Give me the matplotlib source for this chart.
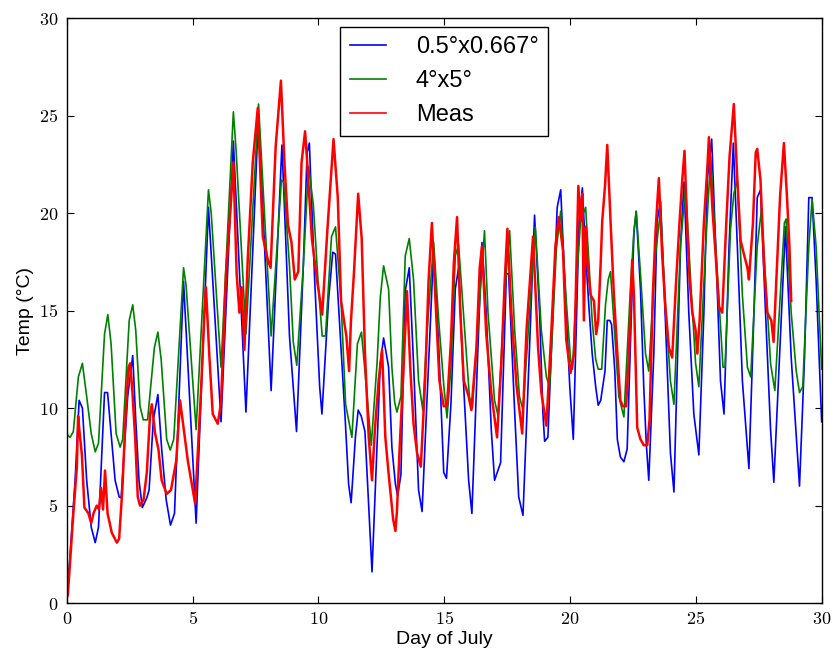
import numpy as np
import matplotlib
matplotlib.use('Agg')
import matplotlib.pyplot as plt
from matplotlib.ticker import FuncFormatter

plt.rcParams['font.family'] = ['Liberation Sans', 'DejaVu Sans']
plt.rcParams['mathtext.fontset'] = 'cm'

# (day of July, temperature degC)
fine = np.array([
    (0.0, 1.9), (0.08, 1.5), (0.33, 6.3), (0.49, 10.4), (0.62, 10.0), (0.79, 6.3), (0.97, 3.9),
    (1.13, 3.1), (1.26, 3.9), (1.5, 10.8), (1.62, 10.8), (1.76, 8.7), (1.92, 6.3), (2.08, 5.45),
    (2.16, 5.4), (2.42, 10.6), (2.62, 12.7), (2.74, 9.4), (2.87, 6.3), (3.0, 4.9), (3.18, 5.4),
    (3.27, 5.8), (3.44, 9.4), (3.62, 10.7), (3.77, 7.9), (3.95, 5.3), (4.12, 4.0), (4.28, 4.6),
    (4.64, 16.5), (5.14, 4.1), (5.63, 20.3), (6.13, 9.3), (6.62, 23.7), (7.12, 9.8), (7.62, 25.1),
    (8.12, 10.9), (8.55, 23.5), (8.65, 20.3), (8.85, 13.7), (9.13, 8.8), (9.4, 17.3), (9.55, 23.1),
    (9.64, 23.6), (9.85, 16.6), (10.05, 11.1), (10.14, 9.7), (10.4, 15.5), (10.57, 18.0),
    (10.68, 17.9), (10.87, 13.7), (11.07, 9.3), (11.2, 6.1), (11.3, 5.15), (11.47, 8.5),
    (11.58, 9.9), (11.7, 9.6), (11.85, 8.8), (12.0, 4.9), (12.13, 1.6), (12.33, 8.0), (12.46, 12.3),
    (12.59, 13.6), (12.79, 12.1), (12.92, 8.0), (13.06, 6.1), (13.15, 5.5), (13.28, 6.6),
    (13.45, 16.0), (13.61, 17.2), (13.78, 12.3), (13.98, 5.8), (14.12, 4.7), (14.32, 10.6),
    (14.58, 18.2), (14.78, 13.2), (14.98, 6.7), (15.09, 6.4), (15.27, 10.3), (15.44, 16.1),
    (15.57, 17.2), (15.77, 11.2), (15.97, 6.3), (16.1, 4.6), (16.34, 13.1), (16.5, 18.5),
    (16.67, 14.9), (16.87, 8.9), (17.0, 6.3), (17.24, 7.2), (17.47, 16.9), (17.56, 16.9),
    (17.8, 9.8), (17.96, 5.45), (18.13, 4.5), (18.39, 13.1), (18.59, 19.9), (18.79, 14.9),
    (18.92, 9.8), (18.99, 8.3), (19.12, 8.5), (19.32, 14.9), (19.49, 20.3), (19.63, 21.2),
    (19.79, 16.6), (19.99, 11.1), (20.13, 8.4), (20.36, 19.6), (20.49, 21.3), (20.62, 17.9),
    (20.75, 15.2), (20.88, 12.8), (21.02, 11.1), (21.12, 10.15), (21.22, 10.4), (21.39, 11.9),
    (21.48, 14.5), (21.58, 14.5), (21.65, 14.3), (21.78, 11.9), (21.88, 8.4), (22.0, 7.5),
    (22.14, 7.25), (22.27, 7.9), (22.54, 19.0), (22.63, 20.1), (22.8, 16.1), (22.93, 11.1),
    (23.03, 8.2), (23.13, 6.3), (23.33, 12.8), (23.46, 19.6), (23.6, 20.6), (23.79, 14.5),
    (23.99, 7.7), (24.13, 5.7), (24.39, 18.3), (24.53, 21.6), (24.72, 14.9), (24.92, 9.7),
    (25.12, 7.6), (25.32, 14.9), (25.46, 21.8), (25.63, 23.8), (25.79, 18.3), (25.98, 11.4),
    (26.12, 9.7), (26.32, 18.3), (26.49, 23.6), (26.65, 18.3), (26.85, 11.4), (27.11, 6.9),
    (27.31, 14.9), (27.44, 20.8), (27.57, 21.2), (27.77, 14.9), (27.97, 8.9), (28.1, 6.2),
    (28.56, 19.3), (28.79, 12.6), (29.12, 6.0), (29.32, 12.6), (29.49, 20.8), (29.62, 20.8),
    (29.78, 16.6), (30.0, 9.3)])

coarse = np.array([
    (0.0, 8.8), (0.04, 8.6), (0.13, 8.5), (0.26, 8.8), (0.46, 11.6), (0.62, 12.3), (0.79, 10.6),
    (0.97, 8.7), (1.13, 7.76), (1.26, 8.2), (1.5, 13.8), (1.63, 14.8), (1.76, 13.3), (1.96, 8.7),
    (2.12, 8.0), (2.22, 8.4), (2.48, 14.5), (2.62, 15.3), (2.74, 14.0), (2.91, 10.1), (3.04, 9.4),
    (3.21, 9.4), (3.48, 13.1), (3.62, 13.9), (3.75, 12.5), (3.97, 8.4), (4.11, 7.85), (4.25, 8.4),
    (4.64, 17.2), (4.74, 16.3), (5.14, 8.9), (5.63, 21.2), (5.74, 20.0), (6.13, 12.1),
    (6.62, 25.2), (6.73, 23.2), (7.12, 13.8), (7.62, 25.6), (8.12, 13.7), (8.53, 21.7),
    (8.62, 21.6), (8.85, 17.3), (9.0, 13.4), (9.14, 12.2), (9.4, 17.3), (9.61, 22.4), (9.8, 20.4),
    (10.0, 16.2), (10.15, 13.7), (10.28, 13.7), (10.52, 18.8), (10.68, 19.3), (10.9, 15.5),
    (11.08, 10.2), (11.33, 8.5), (11.55, 13.3), (11.71, 13.9), (11.85, 11.9), (12.1, 8.1),
    (12.33, 12.3), (12.46, 15.7), (12.59, 17.3), (12.79, 16.1), (12.92, 12.1), (13.03, 10.3),
    (13.12, 9.8), (13.28, 10.6), (13.45, 17.8), (13.61, 18.7), (13.78, 16.6), (13.98, 11.4),
    (14.15, 9.9), (14.32, 14.0), (14.58, 18.5), (14.78, 14.5), (14.98, 11.2), (15.11, 9.5),
    (15.27, 12.1), (15.44, 17.8), (15.57, 18.4), (15.77, 14.8), (16.0, 10.6), (16.12, 10.0),
    (16.6, 19.1), (16.74, 14.9), (17.0, 10.4), (17.14, 9.6), (17.43, 16.4), (17.6, 19.1),
    (17.8, 14.0), (17.99, 10.6), (18.13, 9.9), (18.39, 14.9), (18.62, 19.3), (18.86, 14.0),
    (19.06, 11.6), (19.19, 11.1), (19.46, 18.2), (19.63, 20.1), (19.85, 15.5), (20.02, 12.5),
    (20.1, 12.0), (20.29, 17.1), (20.42, 19.6), (20.62, 20.3), (20.75, 17.5), (20.88, 14.5),
    (21.02, 12.5), (21.12, 12.0), (21.26, 12.0), (21.41, 15.3), (21.52, 16.6), (21.61, 17.0),
    (21.74, 14.5), (21.94, 10.6), (22.14, 9.55), (22.4, 16.1), (22.54, 19.1), (22.63, 20.1),
    (22.8, 16.9), (23.0, 12.8), (23.13, 11.9), (23.4, 17.9), (23.6, 20.2), (23.79, 15.3),
    (23.99, 11.4), (24.13, 10.2), (24.39, 18.3), (24.59, 21.4), (24.79, 16.6), (24.99, 12.3),
    (25.12, 11.1), (25.39, 18.3), (25.59, 22.9), (25.79, 18.3), (26.08, 12.1), (26.16, 12.1),
    (26.38, 19.2), (26.51, 21.0), (26.65, 21.7), (26.85, 15.8), (27.05, 12.1), (27.18, 11.6),
    (27.44, 18.3), (27.61, 20.2), (27.77, 16.6), (27.97, 12.3), (28.14, 10.9), (28.52, 19.5),
    (28.59, 19.7), (28.79, 14.9), (28.99, 11.9), (29.12, 10.8), (29.25, 11.1), (29.49, 18.3),
    (29.62, 20.7), (29.78, 18.3), (30.0, 12.0)])

meas = np.array([
    (0.0, 0.3), (0.04, 0.4), (0.17, 2.9), (0.26, 4.6), (0.4, 7.0), (0.45, 9.6), (0.49, 9.0),
    (0.6, 7.6), (0.7, 4.9), (0.86, 4.6), (0.97, 4.1), (1.06, 4.6), (1.19, 5.0), (1.28, 4.8),
    (1.36, 5.9), (1.44, 4.8), (1.52, 6.8), (1.62, 4.6), (1.79, 3.6), (1.99, 3.1), (2.08, 3.3),
    (2.21, 5.9), (2.34, 9.7), (2.45, 12.1), (2.52, 12.3), (2.61, 10.8), (2.72, 8.4), (2.82, 5.45),
    (2.91, 5.0), (3.05, 5.3), (3.18, 6.7), (3.31, 9.7), (3.38, 10.2), (3.51, 8.7), (3.64, 7.9),
    (3.77, 6.3), (3.97, 5.6), (4.14, 5.8), (4.35, 7.3), (4.5, 10.4), (4.81, 7.3), (5.1, 5.1),
    (5.33, 10.8), (5.47, 14.9), (5.53, 16.2), (5.66, 12.8), (5.8, 9.7), (6.0, 9.2), (6.13, 10.3),
    (6.33, 16.9), (6.53, 20.7), (6.62, 22.6), (6.75, 16.9), (6.86, 14.9), (6.95, 16.2),
    (7.06, 13.0), (7.19, 17.6), (7.39, 22.6), (7.59, 25.4), (7.79, 18.8), (7.99, 17.6),
    (8.1, 17.2), (8.3, 23.4), (8.51, 26.8), (8.65, 22.6), (8.79, 19.4), (8.93, 18.5),
    (9.06, 16.6), (9.2, 17.0), (9.33, 22.6), (9.47, 24.2), (9.54, 22.9), (9.74, 18.7),
    (9.94, 16.6), (10.15, 14.8), (10.36, 19.2), (10.6, 23.8), (10.77, 20.8), (10.9, 15.5),
    (11.11, 13.7), (11.22, 11.9), (11.29, 14.4), (11.41, 16.9), (11.58, 21.0), (11.72, 18.7),
    (11.85, 12.8), (12.0, 8.5), (12.13, 6.3), (12.25, 9.0), (12.4, 11.5), (12.53, 13.0),
    (12.66, 8.5), (12.8, 6.5), (12.97, 4.3), (13.06, 3.7), (13.12, 4.7), (13.23, 8.0),
    (13.36, 11.4), (13.52, 16.0), (13.65, 12.1), (13.78, 9.2), (13.92, 7.7), (14.07, 7.0),
    (14.24, 11.4), (14.38, 16.6), (14.51, 19.5), (14.64, 15.9), (14.81, 11.4), (14.98, 10.1),
    (15.11, 10.1), (15.27, 13.5), (15.38, 17.4), (15.51, 19.8), (15.64, 14.9), (15.78, 11.4),
    (15.97, 10.6), (16.08, 9.9), (16.28, 13.1), (16.41, 17.2), (16.5, 18.3), (16.67, 13.8),
    (16.87, 10.8), (17.1, 8.5), (17.27, 12.3), (17.4, 16.4), (17.51, 19.2), (17.67, 14.9),
    (17.87, 11.2), (18.1, 8.7), (18.27, 14.0), (18.4, 16.4), (18.53, 18.8), (18.73, 13.1),
    (18.86, 10.8), (19.06, 9.1), (19.26, 14.0), (19.42, 18.3), (19.55, 19.8), (19.72, 18.1),
    (19.85, 13.5), (20.02, 11.8), (20.16, 12.8), (20.22, 15.4), (20.33, 21.4), (20.42, 19.6),
    (20.49, 21.0), (20.55, 14.5), (20.62, 19.3), (20.69, 17.5), (20.82, 15.8), (20.95, 15.5),
    (21.04, 13.8), (21.12, 14.5), (21.22, 17.5), (21.28, 19.6), (21.39, 21.4), (21.48, 23.5),
    (21.61, 19.6), (21.74, 15.9), (21.88, 12.8), (22.0, 10.4), (22.1, 10.1), (22.23, 10.1),
    (22.34, 12.8), (22.47, 17.6), (22.54, 15.8), (22.67, 9.0), (22.8, 8.4), (22.93, 8.1),
    (23.07, 8.1), (23.16, 9.4), (23.29, 15.8), (23.4, 19.1), (23.53, 21.8), (23.66, 17.9),
    (23.79, 15.2), (23.93, 13.1), (24.06, 12.6), (24.22, 16.6), (24.35, 19.5), (24.46, 21.7),
    (24.55, 23.2), (24.66, 19.2), (24.75, 16.6), (24.86, 14.9), (24.99, 14.0), (25.06, 12.8),
    (25.15, 14.5), (25.32, 19.5), (25.46, 22.4), (25.52, 23.9), (25.65, 20.4), (25.79, 17.8),
    (25.92, 15.2), (26.05, 14.9), (26.21, 19.5), (26.34, 22.9), (26.51, 25.6), (26.65, 21.7),
    (26.78, 18.6), (26.91, 17.9), (27.05, 17.2), (27.11, 16.6), (27.27, 19.5), (27.38, 23.1),
    (27.44, 23.3), (27.57, 21.7), (27.71, 17.4), (27.84, 14.9), (28.0, 14.5), (28.09, 13.4),
    (28.26, 18.3), (28.35, 20.9), (28.5, 23.6), (28.62, 20.9), (28.72, 18.3), (28.79, 15.5)])

labels = ['0.5°x0.667°', '4°x5°', 'Meas']

fig = plt.figure(figsize=(8.35, 6.52), dpi=100)
ax = fig.add_axes((0.080, 0.075, 0.904, 0.897))

ax.plot(fine[:, 0], fine[:, 1], color='#0000ff', lw=1.2, label=labels[0])
ax.plot(coarse[:, 0], coarse[:, 1], color='#008000', lw=1.2, label=labels[1])
ax.plot(meas[:, 0], meas[:, 1], color='#ff0000', lw=1.8, label=labels[2])

ax.set_xlim(0, 30)
ax.set_ylim(0, 30)
ax.set_xticks(np.arange(0, 31, 5))
ax.set_yticks(np.arange(0, 31, 5))
fmt = FuncFormatter(lambda v, p: '$%d$' % v)
ax.xaxis.set_major_formatter(fmt)
ax.yaxis.set_major_formatter(fmt)
ax.tick_params(direction='in', length=5, width=0.8, top=True, right=True,
               labelsize=13, pad=6)
for s in ax.spines.values():
    s.set_linewidth(1.0)

ax.set_xlabel('Day of July', fontsize=14, labelpad=2)
ax.set_ylabel('Temp (°C)', fontsize=14, labelpad=4)

leg = ax.legend(loc='upper center', bbox_to_anchor=(0.5, 0.985), borderaxespad=0,
                fontsize=17, fancybox=False, handlelength=1.55, handletextpad=1.25,
                labelspacing=0.5, borderpad=0.4, framealpha=1)
leg.get_frame().set_edgecolor('black')
leg.get_frame().set_linewidth(1.0)
for line in leg.get_lines():
    line.set_linewidth(1.2)

fig.savefig('out.png', dpi=100)
